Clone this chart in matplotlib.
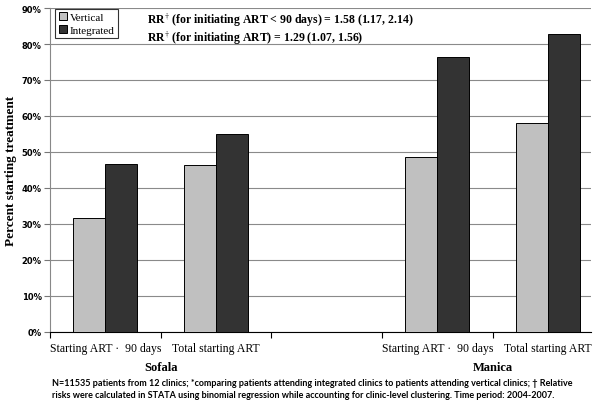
import numpy as np
import matplotlib
matplotlib.use("Agg")
import matplotlib.pyplot as plt

# data (fraction starting treatment)
categories = ["Starting ART \u00b7  90 days", "Total starting ART", "",
              "Starting ART \u00b7  90 days", "Total starting ART"]
vertical = [0.317, 0.463, np.nan, 0.485, 0.581]
integrated = [0.466, 0.550, np.nan, 0.764, 0.827]
groups = ["Sofala", "Manica"]
group_pos = [0.5, 3.5]
yticks = np.arange(0, 0.91, 0.1)

rr_text = (r"RR$^{\dagger}$ (for initiating ART < 90 days) = 1.58 (1.17, 2.14)" "\n"
           r"RR$^{\dagger}$ (for initiating ART) = 1.29 (1.07, 1.56)")
footnote = ("N=11535 patients from 12 clinics; *comparing patients attending integrated clinics to patients attending vertical clinics; \u2020 Relative\n"
            "risks were calculated in STATA using binomial regression while accounting for clinic-level clustering. Time period: 2004-2007.")

plt.rcParams["mathtext.fontset"] = "stix"
serif = "Liberation Serif"

fig = plt.figure(figsize=(6, 4.1), dpi=100)
ax = fig.add_axes([0.0833, 0.188, 0.902, 0.790])

x = np.arange(len(categories))
w = 0.289
ax.bar(x - w / 2, vertical, w, color="#c0c0c0", edgecolor="black", linewidth=0.7,
       label="Vertical", zorder=3)
ax.bar(x + w / 2, integrated, w, color="#333333", edgecolor="black", linewidth=0.7,
       label="Integrated", zorder=3)

ax.set_ylim(0, 0.9)
ax.set_xlim(-0.5, 4.39)
ax.set_yticks(yticks)
ax.set_yticklabels([f"{int(round(v * 100))}%" for v in yticks],
                   fontsize=6, fontweight="bold", family="DejaVu Sans")
ax.yaxis.grid(True, color="#8a8a8a", linewidth=0.8, zorder=0)
ax.tick_params(axis="y", direction="out", length=4, color="#777777", pad=2)

# category labels under the bars, boundary ticks on the axis
ax.set_xticks([-0.5, 0.5, 1.5, 2.5, 3.5])
ax.set_xticklabels([])
ax.tick_params(axis="x", direction="out", length=4, color="black")
for xi, lab in zip(x, categories):
    ax.text(xi, -0.028, lab, ha="center", va="top", fontsize=8.5, family=serif)
for gx, g in zip(group_pos, groups):
    ax.text(gx, -0.08, g, ha="center", va="top", fontsize=9,
            fontweight="bold", family=serif)

for s in ["top", "right"]:
    ax.spines[s].set_visible(False)
ax.spines["left"].set_color("#888888")
ax.spines["bottom"].set_color("black")

ax.set_ylabel("Percent starting treatment", family=serif, fontweight="bold",
              fontsize=9.5, labelpad=3)

leg = ax.legend(loc="upper left", bbox_to_anchor=(0.008, 1.0), borderaxespad=0.1,
                frameon=True, fancybox=False, edgecolor="black", handlelength=0.7,
                handleheight=0.7, handletextpad=0.3, borderpad=0.3,
                labelspacing=0.25, prop={"family": serif, "size": 8})
leg.get_frame().set_linewidth(0.8)

ax.text(0.18, 0.993, rr_text, transform=ax.transAxes, fontsize=8.5,
        fontweight="bold", family=serif, va="top", linespacing=1.1)

fig.text(0.087, 0.076, footnote, fontsize=6.5, fontweight="bold",
         family="Lato", va="top", linespacing=1.45)

fig.savefig("out.png", dpi=100)
